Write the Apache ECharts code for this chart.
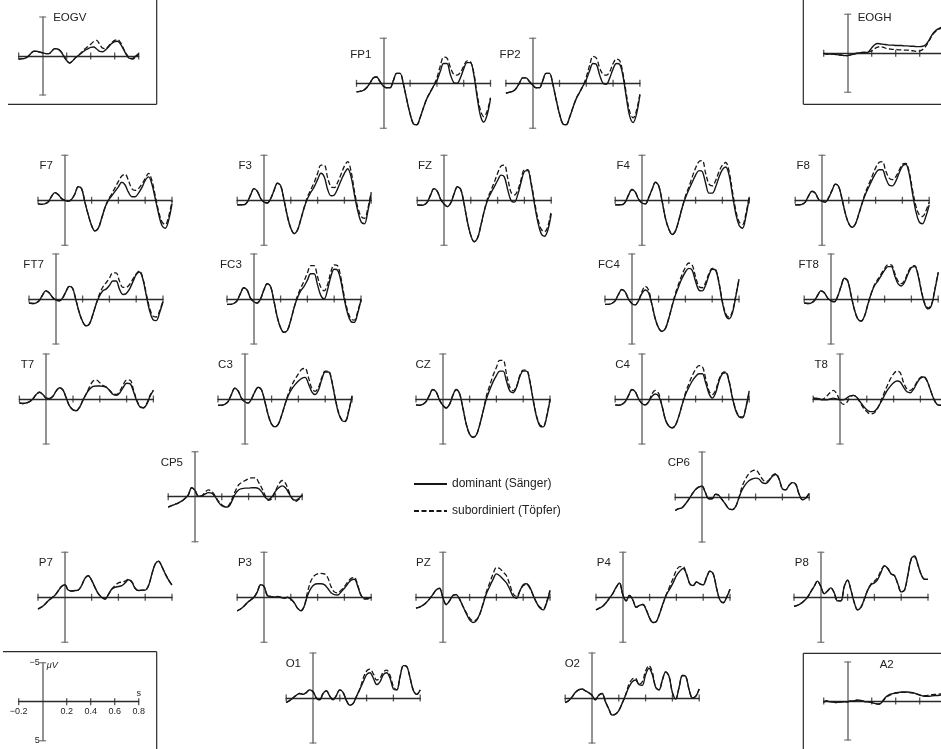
<!DOCTYPE html>
<html><head><meta charset="utf-8">
<script src="https://cdn.jsdelivr.net/npm/echarts@6/dist/echarts.min.js"></script>
<style>html,body{margin:0;padding:0;background:#fff}#c{width:941px;height:749px}</style>
</head><body><div id="c"></div>
<script>
// ---------- data ----------
const times = [-0.2,-0.175,-0.15,-0.125,-0.1,-0.075,-0.05,-0.025,0,0.025,0.05,0.075,0.1,0.125,0.15,0.175,0.2,0.225,0.25,0.275,0.3,0.325,0.35,0.375,0.4,0.425,0.45,0.475,0.5,0.525,0.55,0.575,0.6,0.625,0.65,0.675,0.7,0.725,0.75,0.775,0.8];
const xTicks = [-0.2, 0.2, 0.4, 0.6, 0.8];
const yCaps = [-5, 5];
const scaleXLabels = {'-0.2':'\u22120.2','0.2':'0.2','0.4':'0.4','0.6':'0.6','0.8':'0.8'};
const scaleYLabels = {'-5':'\u22125','5':'5'};
const legendNames = ['dominant (Sänger)', 'subordiniert (Töpfer)'];

const EOGV_dom = [0.4,0.35,0.3,0.1,-0.3,-0.6,-0.6,-0.5,-0.4,-0.3,-0.3,-0.6,-0.95,-0.9,-0.6,0.0,0.6,0.9,0.6,0.2,-0.1,-0.4,-0.7,-0.9,-1.1,-1.15,-0.9,-0.6,-0.55,-0.8,-1.2,-1.6,-1.85,-1.9,-1.5,-0.8,-0.1,0.3,0.3,0.0,-0.3];
const EOGV_sub = [0.4,0.35,0.3,0.1,-0.3,-0.6,-0.6,-0.5,-0.4,-0.3,-0.3,-0.6,-0.95,-0.9,-0.6,0.0,0.6,0.9,0.6,0.2,-0.1,-0.5,-0.9,-1.2,-1.5,-1.85,-2.0,-1.5,-1.0,-0.95,-1.3,-1.7,-2.0,-2.1,-1.7,-0.9,-0.2,0.3,0.4,0.1,-0.2];
const EOGH_dom = [0.0,0.1,0.1,0.1,0.15,0.2,0.25,0.3,0.3,0.2,0.1,0.0,-0.05,-0.1,-0.1,-0.2,-0.7,-1.1,-1.25,-1.2,-1.15,-1.1,-1.05,-1.05,-1.0,-1.0,-1.0,-0.95,-0.95,-0.9,-0.9,-0.85,-0.85,-0.9,-1.1,-1.6,-2.3,-2.8,-3.1,-3.3,-3.4];
const EOGH_sub = [0.0,0.1,0.1,0.1,0.15,0.2,0.25,0.3,0.3,0.2,0.1,0.0,-0.05,-0.1,-0.1,-0.2,-0.3,-0.6,-0.8,-0.85,-0.75,-0.6,-0.55,-0.5,-0.5,-0.45,-0.45,-0.4,-0.4,-0.35,-0.3,-0.25,-0.3,-0.5,-0.9,-1.5,-2.2,-2.7,-3.0,-3.2,-3.3];
const A2_dom = [0.1,0.0,0.1,0.1,0.2,0.15,0.1,0.1,0.1,0.0,0.0,-0.1,-0.1,0.0,0.1,0.1,0.2,0.3,0.4,0.3,-0.2,-0.6,-0.85,-0.95,-1.05,-1.1,-1.15,-1.15,-1.15,-1.1,-1.05,-0.9,-0.75,-0.65,-0.6,-0.6,-0.65,-0.7,-0.7,-0.75,-0.75];
const A2_sub = [0.1,0.0,0.1,0.1,0.2,0.15,0.1,0.1,0.1,0.0,0.0,-0.1,-0.1,0.0,0.1,0.1,0.2,0.3,0.4,0.3,-0.1,-0.5,-0.75,-0.9,-1.0,-1.05,-1.1,-1.1,-1.1,-1.05,-1.0,-0.9,-0.8,-0.7,-0.7,-0.75,-0.8,-0.85,-0.85,-0.9,-0.9];

const FP1_dom = [0.95,0.9,0.8,0.5,0.0,-0.6,-0.7,-0.2,0.3,0.5,0.5,-0.3,-1.1,-1.1,0.1,1.8,3.4,4.5,4.6,3.8,2.7,1.7,1.0,0.3,-0.3,-1.3,-2.2,-2.2,-1.0,-0.1,0.0,-0.6,-1.6,-2.3,-2.3,-1.0,1.5,3.6,4.3,3.5,1.7];
const FP1_sub = [0.95,0.9,0.8,0.5,0.0,-0.6,-0.7,-0.2,0.3,0.5,0.5,-0.3,-1.1,-1.1,0.1,1.8,3.4,4.5,4.6,3.8,2.7,1.7,1.0,0.3,-0.6,-1.9,-2.9,-2.8,-1.8,-1.0,-0.9,-1.2,-1.9,-2.5,-2.4,-1.2,1.2,3.0,3.7,3.1,1.6];
const FP2_dom = [1.1,1.0,0.9,0.6,0.0,-0.6,-0.6,-0.2,0.2,0.5,0.5,-0.3,-1.1,-1.1,0.1,1.8,3.4,4.5,4.6,3.8,2.7,1.7,1.0,0.3,-0.4,-1.4,-2.2,-2.1,-0.9,0.0,0.1,-0.6,-1.6,-2.2,-2.1,-0.7,1.7,3.7,4.35,3.4,1.3];
const FP2_sub = [1.1,1.0,0.9,0.6,0.0,-0.6,-0.6,-0.2,0.2,0.5,0.5,-0.3,-1.1,-1.1,0.1,1.8,3.4,4.5,4.6,3.8,2.7,1.7,1.0,0.3,-0.7,-2.0,-3.0,-2.8,-1.7,-1.0,-0.9,-1.3,-2.2,-2.7,-2.5,-1.0,1.3,3.2,3.85,3.0,1.2];

const F7_dom = [0.4,0.45,0.4,0.2,-0.4,-0.85,-0.65,-0.2,0,0.1,-0.1,-0.7,-1.5,-1.3,0.2,1.6,2.8,3.4,3.1,2.0,0.8,0,-0.5,-1.0,-1.5,-2.0,-1.7,-0.9,-0.4,-0.4,-0.8,-1.4,-2.2,-2.6,-1.8,-0.2,1.5,2.8,3.1,2.2,0.4];
const F7_sub = [0.4,0.45,0.4,0.2,-0.4,-0.85,-0.65,-0.2,0,0.1,-0.1,-0.7,-1.5,-1.3,0.2,1.6,2.8,3.4,3.1,2.0,0.8,-0.1,-0.7,-1.4,-2.1,-2.7,-2.9,-2.2,-1.3,-1.1,-1.3,-1.8,-2.4,-3.0,-2.2,-0.5,1.2,2.4,2.7,1.8,0.1];
const F3_dom = [0.5,0.5,0.5,0.2,-0.6,-1.3,-1.0,-0.2,0.2,0.3,-0.2,-1.1,-1.9,-1.6,0.0,1.8,3.1,3.7,3.3,2.1,0.8,-0.2,-0.9,-1.5,-2.3,-3.0,-2.6,-1.2,-0.5,-0.6,-1.3,-2.2,-3.0,-3.5,-2.6,-0.6,1.2,2.4,2.6,1.2,-0.8];
const F3_sub = [0.5,0.5,0.5,0.2,-0.6,-1.3,-1.0,-0.2,0.2,0.3,-0.2,-1.1,-1.9,-1.6,0.0,1.8,3.1,3.7,3.3,2.1,0.8,-0.4,-1.2,-2.0,-3.0,-3.9,-3.9,-2.5,-1.5,-1.4,-2.0,-2.9,-3.8,-4.3,-3.2,-1.0,0.8,1.8,2.0,0.9,-0.9];
const FZ_dom = [0.5,0.55,0.5,0.2,-0.6,-1.3,-1.0,-0.1,0.4,0.7,0.3,-0.7,-1.5,-1.2,0.4,2.4,3.9,4.6,4.2,2.8,1.2,0.0,-0.8,-1.5,-2.2,-2.8,-2.6,-1.2,0.0,0.2,-0.6,-2.0,-3.2,-3.3,-1.8,0.4,2.4,3.7,4.0,3.3,1.5];
const FZ_sub = [0.5,0.55,0.5,0.2,-0.6,-1.3,-1.0,-0.1,0.4,0.7,0.3,-0.7,-1.5,-1.2,0.4,2.4,3.9,4.6,4.2,2.8,1.2,-0.2,-1.1,-2.0,-3.0,-3.8,-3.9,-2.5,-0.9,-0.6,-1.1,-2.3,-3.4,-3.4,-2.0,0.1,2.0,3.2,3.5,2.9,1.2];
const F4_dom = [0.5,0.5,0.5,0.2,-0.6,-1.2,-0.9,-0.1,0.3,0.4,-0.3,-1.2,-2.0,-1.6,0.1,2.0,3.2,3.8,3.4,2.2,0.8,-0.3,-1.2,-2.0,-2.8,-3.3,-3.2,-1.9,-0.8,-0.8,-1.5,-2.6,-3.4,-3.7,-2.8,-0.6,1.5,2.8,3.1,1.8,-0.3];
const F4_sub = [0.5,0.5,0.5,0.2,-0.6,-1.2,-0.9,-0.1,0.3,0.4,-0.3,-1.2,-2.0,-1.6,0.1,2.0,3.2,3.8,3.4,2.2,0.8,-0.5,-1.5,-2.6,-3.6,-4.3,-4.4,-3.0,-1.8,-1.6,-2.2,-3.2,-3.9,-4.2,-3.2,-1.0,1.1,2.4,2.7,1.5,-0.4];
const F8_dom = [0.5,0.5,0.45,0.2,-0.5,-1.0,-0.8,-0.1,0.1,0.2,-0.3,-1.1,-1.8,-1.5,-0.1,1.5,2.6,3.0,2.6,1.5,0.3,-0.7,-1.5,-2.3,-3.0,-3.4,-3.4,-2.5,-1.7,-1.6,-2.1,-3.0,-3.8,-4.0,-3.0,-0.8,1.2,2.4,2.6,1.8,0.5];
const F8_sub = [0.5,0.5,0.45,0.2,-0.5,-1.0,-0.8,-0.1,0.1,0.2,-0.3,-1.1,-1.8,-1.5,-0.1,1.5,2.6,3.0,2.6,1.5,0.3,-0.9,-1.8,-2.7,-3.6,-4.2,-4.3,-3.3,-2.5,-2.3,-2.6,-3.3,-4.0,-4.1,-3.2,-1.2,0.6,1.6,1.8,1.2,0.2];

const FT7_dom = [0.45,0.5,0.45,0.2,-0.4,-0.9,-0.7,-0.2,0.1,0.2,-0.1,-0.8,-1.4,-1.2,0.1,1.5,2.5,3.0,2.8,1.8,0.6,-0.3,-0.9,-1.1,-1.5,-2.0,-2.0,-1.1,-0.5,-0.6,-1.1,-1.9,-2.7,-3.0,-2.2,-0.4,1.3,2.3,2.4,1.5,0.3];
const FT7_sub = [0.45,0.5,0.45,0.2,-0.4,-0.9,-0.7,-0.2,0.1,0.2,-0.1,-0.8,-1.4,-1.2,0.1,1.5,2.5,3.0,2.8,1.8,0.6,-0.5,-1.3,-1.8,-2.3,-2.9,-2.9,-2.0,-1.3,-1.3,-1.6,-2.2,-2.8,-3.1,-2.3,-0.6,1.0,1.9,2.0,1.3,0.2];
const FC3_dom = [0.6,0.6,0.5,0.2,-0.6,-1.25,-1.0,-0.1,0.3,0.45,0.0,-1.0,-1.7,-1.4,0.2,2.0,3.2,3.7,3.5,2.4,1.0,-0.1,-0.9,-1.4,-2.1,-2.8,-2.8,-1.6,-0.4,0.0,-1.0,-2.5,-3.3,-3.2,-2.0,0.0,1.6,2.5,2.6,1.6,0.1];
const FC3_sub = [0.6,0.6,0.5,0.2,-0.6,-1.25,-1.0,-0.1,0.3,0.45,0.0,-1.0,-1.7,-1.4,0.2,2.0,3.2,3.7,3.5,2.4,1.0,-0.3,-1.2,-2.0,-2.9,-3.7,-3.7,-2.5,-1.3,-0.9,-1.6,-3.0,-3.8,-3.7,-2.4,-0.3,1.3,2.2,2.35,1.4,0.0];
const FC4_dom = [0.6,0.6,0.5,0.2,-0.5,-1.05,-0.8,0.0,0.5,0.65,0.2,-0.6,-1.0,-0.7,0.6,2.2,3.2,3.6,3.3,2.2,0.8,-0.4,-1.4,-2.3,-3.0,-3.4,-3.2,-2.0,-1.0,-0.9,-1.5,-2.6,-3.3,-3.2,-1.8,0.3,1.8,2.2,1.6,-0.2,-2.2];
const FC4_sub = [0.6,0.6,0.5,0.2,-0.5,-1.05,-0.8,0.0,0.5,0.65,0.2,-0.8,-1.4,-1.0,0.6,2.2,3.2,3.6,3.3,2.2,0.8,-0.6,-1.7,-2.7,-3.5,-4.0,-3.8,-2.5,-1.4,-1.25,-1.8,-2.8,-3.4,-3.3,-1.9,0.2,1.6,2.0,1.4,-0.3,-2.2];
const FT8_dom = [0.45,0.5,0.45,0.2,-0.4,-0.9,-0.7,-0.1,0.2,0.3,-0.3,-1.4,-2.3,-2.0,-0.4,1.2,2.2,2.45,1.9,0.6,-0.6,-1.5,-2.0,-2.6,-3.2,-3.6,-3.6,-2.6,-1.7,-1.45,-1.9,-2.8,-3.5,-3.6,-2.6,-0.8,0.6,1.1,0.7,-1.0,-2.9];
const FT8_sub = [0.45,0.5,0.45,0.2,-0.4,-0.9,-0.7,-0.1,0.2,0.3,-0.3,-1.4,-2.3,-2.0,-0.4,1.2,2.2,2.45,1.9,0.6,-0.6,-1.6,-2.2,-2.8,-3.4,-3.8,-3.8,-2.9,-2.0,-1.7,-2.1,-3.0,-3.6,-3.7,-2.7,-0.9,0.5,1.0,0.6,-1.1,-3.0];

const T7_dom = [0.45,0.5,0.45,0.3,0.0,-0.5,-0.75,-0.5,-0.1,-0.05,-0.3,-0.9,-1.25,-1.0,-0.1,0.8,1.2,1.3,0.9,0.1,-0.6,-1.1,-1.4,-1.45,-1.45,-1.4,-1.3,-0.9,-0.5,-0.4,-0.7,-1.3,-1.75,-1.7,-0.9,0.2,0.9,1.0,0.6,-0.3,-0.95];
const T7_sub = [0.45,0.5,0.45,0.3,0.0,-0.5,-0.75,-0.5,-0.1,-0.05,-0.3,-0.9,-1.25,-1.0,-0.1,0.8,1.2,1.3,0.9,0.1,-0.6,-1.4,-2.0,-2.1,-1.8,-1.5,-1.3,-0.95,-0.6,-0.5,-0.9,-1.6,-2.1,-2.1,-1.1,0.1,0.8,0.95,0.5,-0.4,-1.0];
const C3_dom = [0.7,0.7,0.6,0.3,-0.5,-1.2,-0.9,-0.1,0.3,0.45,0.0,-0.8,-1.3,-1.0,0.3,1.8,2.8,3.1,2.8,1.8,0.6,-0.4,-1.1,-1.6,-2.0,-2.3,-2.4,-1.7,-0.8,-0.5,-1.0,-2.2,-3.0,-3.0,-1.9,0.0,1.6,2.4,2.5,1.4,-0.3];
const C3_sub = [0.7,0.7,0.6,0.3,-0.5,-1.2,-0.9,-0.1,0.3,0.45,0.0,-0.8,-1.3,-1.0,0.3,1.8,2.8,3.1,2.8,1.8,0.6,-0.6,-1.5,-2.2,-2.8,-3.3,-3.4,-2.4,-1.2,-0.85,-1.3,-2.4,-3.1,-3.1,-2.0,-0.1,1.5,2.3,2.4,1.3,-0.3];
const CZ_dom = [0.65,0.7,0.6,0.3,-0.4,-1.05,-0.8,0.1,0.7,1.0,0.6,-0.4,-1.05,-0.6,1.0,2.8,3.9,4.25,4.0,2.9,1.4,0.0,-1.0,-1.9,-2.6,-3.1,-3.1,-2.0,-0.9,-0.7,-1.3,-2.5,-3.1,-3.1,-1.9,0.2,2.0,3.0,3.1,2.0,0.1];
const CZ_sub = [0.65,0.7,0.6,0.3,-0.4,-1.05,-0.8,0.1,0.7,1.0,0.6,-0.4,-1.05,-0.6,1.0,2.8,3.9,4.25,4.0,2.9,1.4,-0.3,-1.5,-2.6,-3.5,-4.3,-4.3,-2.8,-1.3,-0.9,-1.4,-2.6,-3.2,-3.2,-2.0,0.1,1.9,2.9,3.0,1.9,0.0];
const C4_dom = [0.65,0.7,0.6,0.3,-0.4,-1.05,-0.8,0.0,0.5,0.65,0.3,-0.3,-0.55,-0.3,0.8,2.3,3.0,3.2,2.9,1.9,0.6,-0.5,-1.3,-2.0,-2.5,-2.8,-2.8,-1.8,-0.6,-0.1,-0.7,-2.0,-2.8,-2.9,-1.9,-0.1,1.3,2.0,2.1,1.0,-0.9];
const C4_sub = [0.65,0.7,0.6,0.3,-0.4,-1.05,-0.8,0.0,0.5,0.65,0.3,-0.6,-0.95,-0.6,0.8,2.3,3.0,3.2,2.9,1.9,0.6,-0.7,-1.7,-2.6,-3.3,-3.7,-3.6,-2.3,-0.9,-0.5,-1.0,-2.2,-2.9,-3.0,-2.0,-0.2,1.2,1.9,2.0,0.9,-0.9];
const T8_dom = [-0.1,-0.1,0.0,0.1,0.1,0.0,-0.1,0.0,0.1,0.1,-0.1,-0.35,-0.4,-0.2,0.3,0.8,1.2,1.4,1.4,1.1,0.5,-0.2,-0.9,-1.4,-1.8,-2.0,-1.9,-1.3,-0.8,-0.7,-1.1,-1.8,-2.3,-2.45,-2.0,-1.0,0.0,0.6,0.7,0.5,0.2];
const T8_sub = [-0.1,0.0,0.1,0.0,-0.3,-0.7,-0.95,-0.6,0.2,0.6,0.4,-0.2,-0.4,-0.2,0.4,1.0,1.4,1.65,1.6,1.2,0.4,-0.5,-1.4,-2.2,-2.8,-3.1,-2.9,-1.8,-1.1,-0.95,-1.3,-1.9,-2.4,-2.5,-2.0,-1.0,0.0,0.6,0.7,0.5,0.2];

const CP5_dom = [1.15,1.0,0.85,0.7,0.5,0.2,-0.2,-1.0,-0.7,-0.05,-0.1,-0.3,-0.45,-0.4,0.0,0.6,1.0,1.15,1.1,0.5,-0.3,-0.75,-0.9,-0.95,-0.95,-1.0,-1.0,-0.9,-0.5,0.1,0.3,0.0,-0.6,-1.0,-1.2,-1.0,-0.4,0.2,0.4,0.2,-0.2];
const CP5_sub = [1.15,1.0,0.85,0.7,0.5,0.2,-0.2,-1.0,-0.7,-0.05,-0.1,-0.5,-0.75,-0.6,-0.1,0.5,0.9,1.1,1.0,0.3,-0.6,-1.3,-1.6,-1.8,-2.0,-2.1,-2.1,-1.6,-0.9,-0.1,0.4,0.2,-0.6,-1.4,-1.8,-1.5,-0.6,0.2,0.55,0.3,-0.2];
const CP6_dom = [1.5,1.3,1.2,0.8,0.3,-0.3,-0.8,-1.1,-1.2,-0.5,0.2,0.2,-0.3,-0.2,0.3,0.8,1.3,1.4,1.1,0.1,-0.8,-1.4,-1.8,-2.0,-2.1,-2.0,-1.6,-1.5,-1.8,-2.3,-2.5,-2.0,-0.9,-0.8,-1.3,-1.6,-1.4,-0.3,0.3,0.1,-0.4];
const CP6_sub = [1.5,1.3,1.2,0.8,0.3,-0.3,-0.8,-1.1,-1.2,-0.5,0.2,0.2,-0.3,-0.2,0.3,0.8,1.3,1.4,1.1,0.1,-1.2,-2.0,-2.6,-2.9,-3.0,-2.6,-2.0,-1.7,-1.9,-2.4,-2.6,-2.0,-0.9,-0.8,-1.3,-1.6,-1.4,-0.3,0.3,0.1,-0.4];

const P7_dom = [1.3,1.1,0.8,0.4,0.1,-0.2,-0.7,-1.2,-1.4,-0.8,-0.7,-0.75,-0.8,-1.3,-2.1,-2.4,-1.9,-1.1,-0.4,0.0,0.2,-0.3,-0.9,-1.1,-1.2,-1.3,-1.6,-1.95,-1.7,-1.0,-0.75,-0.8,-0.8,-1.3,-2.6,-3.7,-4.0,-3.4,-2.6,-1.9,-1.35];
const P7_sub = [1.3,1.1,0.8,0.4,0.1,-0.2,-0.7,-1.2,-1.4,-0.8,-0.7,-0.75,-0.8,-1.3,-2.1,-2.4,-1.9,-1.1,-0.4,0.0,0.2,-0.3,-0.9,-1.3,-1.6,-1.7,-1.8,-2.0,-1.75,-1.0,-0.75,-0.8,-0.8,-1.3,-2.6,-3.7,-4.0,-3.4,-2.6,-1.9,-1.35];
const P3_dom = [1.5,1.3,1.0,0.6,0.3,0.0,-0.6,-1.4,-1.2,-0.2,-0.1,0.0,-0.1,0.0,0.1,0.0,0.2,0.6,1.2,1.5,1.0,-0.2,-1.0,-1.4,-1.5,-1.5,-1.4,-1.0,-0.5,-0.3,-0.25,-0.6,-1.0,-1.5,-1.9,-2.0,-1.2,-0.2,0.1,0.1,0.0];
const P3_sub = [1.5,1.3,1.0,0.6,0.3,0.0,-0.6,-1.4,-1.2,-0.2,-0.1,0.0,-0.1,0.0,0.1,0.0,0.2,0.6,1.2,1.5,1.0,-0.6,-1.8,-2.4,-2.6,-2.65,-2.6,-2.2,-1.2,-0.6,-0.5,-0.8,-1.2,-1.7,-2.1,-2.2,-1.3,-0.2,0.2,0.2,0.0];
const PZ_dom = [1.2,1.1,0.9,0.6,0.2,-0.3,-0.8,-1.0,0.0,0.8,0.4,-0.2,-0.3,0.2,1.0,1.8,2.5,2.8,2.6,1.9,0.8,-0.4,-1.2,-2.0,-2.6,-2.4,-2.0,-1.6,-0.9,-0.1,0.1,-0.7,-1.4,-1.5,-1.1,-0.2,0.6,1.2,1.4,0.6,-0.7];
const PZ_sub = [1.2,1.1,0.9,0.6,0.2,-0.3,-0.8,-1.0,0.0,0.8,0.4,-0.2,-0.3,0.2,1.0,1.7,2.3,2.6,2.5,1.9,0.7,-0.6,-1.6,-2.6,-3.3,-3.2,-2.8,-2.4,-1.4,-0.4,-0.1,-0.7,-1.3,-1.4,-1.0,-0.2,0.6,1.1,1.3,0.5,-0.8];
const P4_dom = [1.4,1.2,1.0,0.6,0.1,-0.4,-1.1,-1.6,-0.3,0.4,-0.2,0.3,1.1,0.9,0.8,1.4,2.3,2.8,2.7,1.8,0.7,-0.3,-0.9,-1.6,-2.4,-2.9,-3.2,-2.6,-1.5,-1.3,-1.7,-1.5,-1.4,-2.2,-2.9,-2.6,-1.0,0.3,0.6,0.0,-0.9];
const P4_sub = [1.4,1.2,1.0,0.6,0.1,-0.4,-1.1,-1.6,-0.3,0.4,-0.2,0.3,1.1,0.9,0.8,1.4,2.3,2.8,2.7,1.8,0.7,-0.3,-1.2,-2.1,-3.0,-3.4,-3.4,-2.6,-1.5,-1.3,-1.7,-1.5,-1.4,-2.2,-2.9,-2.6,-1.0,0.3,0.6,0.0,-0.9];
const P8_dom = [1.0,0.9,0.7,0.4,0.0,-0.6,-1.2,-1.8,-1.2,-0.4,-0.7,-1.05,-0.5,0.4,0.4,-1.2,-1.9,-0.8,0.6,1.4,1.1,0.2,-0.8,-1.4,-1.6,-2.0,-2.8,-3.5,-3.2,-2.6,-2.4,-1.5,-0.6,-0.8,-2.5,-4.3,-4.6,-3.6,-2.5,-2.0,-2.0];
const P8_sub = [1.0,0.9,0.7,0.4,0.0,-0.6,-1.2,-1.8,-1.2,-0.4,-0.7,-1.05,-0.5,0.4,0.4,-1.2,-1.9,-0.8,0.6,1.4,1.1,0.2,-0.8,-1.5,-1.8,-2.2,-3.0,-3.5,-3.2,-2.6,-2.4,-1.5,-0.6,-0.8,-2.5,-4.2,-4.5,-3.6,-2.5,-2.0,-2.0];

const O1_dom = [0.5,0.3,0.0,-0.3,-0.5,-0.4,-0.6,-0.9,-0.7,0.0,0.2,-0.5,-0.8,-0.2,0.2,-0.3,-0.9,-0.6,0.3,0.8,0.6,-0.2,-1.0,-1.8,-2.6,-2.8,-2.2,-1.5,-1.8,-2.6,-2.8,-2.2,-1.0,-0.9,-2.4,-3.6,-3.5,-2.2,-0.8,-0.4,-0.9];
const O1_sub = [0.5,0.3,0.0,-0.3,-0.5,-0.4,-0.6,-0.9,-0.7,0.0,0.2,-0.5,-0.8,-0.2,0.2,-0.3,-0.9,-0.6,0.3,0.8,0.6,-0.2,-1.0,-2.2,-3.0,-3.2,-2.7,-2.0,-2.2,-2.9,-3.1,-2.5,-1.3,-0.9,-2.4,-3.6,-3.5,-2.2,-0.8,-0.4,-0.9];
const O2_dom = [0.5,0.3,-0.1,-0.6,-0.9,-1.0,-0.8,-0.6,-0.3,0.2,-0.3,-0.5,0.4,1.2,1.9,1.8,1.4,0.6,-0.3,-1.2,-1.8,-2.0,-1.5,-1.4,-2.6,-3.3,-2.6,-1.2,-0.9,-2.0,-2.9,-2.4,-0.6,0.1,-1.2,-2.5,-2.4,-0.9,0.0,-0.2,-1.0];
const O2_sub = [0.5,0.3,-0.1,-0.6,-0.9,-1.0,-0.8,-0.6,-0.3,0.2,-0.3,-0.5,0.4,1.2,1.9,1.8,1.4,0.6,-0.3,-1.5,-2.1,-2.2,-1.5,-1.8,-3.0,-3.6,-2.9,-1.2,-0.9,-2.0,-2.9,-2.4,-0.6,0.1,-1.2,-2.5,-2.4,-0.9,0.0,-0.2,-1.0];

// ---------- layout (positions only) ----------
const layout = [
  {name:'EOGV', kind:'s', x0:42.7, y0:56,   dom:EOGV_dom, sub:EOGV_sub, lx:10.5, ly:-37.7},
  {name:'EOGH', kind:'s', x0:847.7, y0:53.3, dom:EOGH_dom, sub:EOGH_sub, lx:10, ly:-35},
  {name:'A2',   kind:'s', x0:847.7, y0:701,  dom:A2_dom, sub:A2_sub, lx:32, ly:-36},
  {name:'',     kind:'s', x0:42.7, y0:701.7, scale:true},
  {name:'FP1', kind:'m', x0:383.3, y0:83.3, dom:FP1_dom, sub:FP1_sub, ly:-28},
  {name:'FP2', kind:'m', x0:532.7, y0:83.3, dom:FP2_dom, sub:FP2_sub, ly:-28},
  {name:'F7', kind:'m', x0:64.8, y0:200.3, dom:F7_dom, sub:F7_sub},
  {name:'F3', kind:'m', x0:264, y0:200.3, dom:F3_dom, sub:F3_sub},
  {name:'FZ', kind:'m', x0:444, y0:200.3, dom:FZ_dom, sub:FZ_sub},
  {name:'F4', kind:'m', x0:642, y0:200.3, dom:F4_dom, sub:F4_sub},
  {name:'F8', kind:'m', x0:822, y0:200.3, dom:F8_dom, sub:F8_sub},
  {name:'FT7', kind:'m', x0:55.8, y0:299, dom:FT7_dom, sub:FT7_sub},
  {name:'FC3', kind:'m', x0:253.8, y0:299, dom:FC3_dom, sub:FC3_sub},
  {name:'FC4', kind:'m', x0:631.8, y0:299, dom:FC4_dom, sub:FC4_sub},
  {name:'FT8', kind:'m', x0:831, y0:299, dom:FT8_dom, sub:FT8_sub},
  {name:'T7', kind:'m', x0:46.2, y0:399, dom:T7_dom, sub:T7_sub},
  {name:'C3', kind:'m', x0:244.8, y0:399, dom:C3_dom, sub:C3_sub},
  {name:'CZ', kind:'m', x0:442.8, y0:399, dom:CZ_dom, sub:CZ_sub},
  {name:'C4', kind:'m', x0:642, y0:399, dom:C4_dom, sub:C4_sub},
  {name:'T8', kind:'m', x0:840, y0:399, dom:T8_dom, sub:T8_sub},
  {name:'CP5', kind:'m', x0:195, y0:496.7, dom:CP5_dom, sub:CP5_sub},
  {name:'CP6', kind:'m', x0:702, y0:497, dom:CP6_dom, sub:CP6_sub},
  {name:'P7', kind:'m', x0:64.8, y0:597.3, dom:P7_dom, sub:P7_sub},
  {name:'P3', kind:'m', x0:264, y0:597.3, dom:P3_dom, sub:P3_sub},
  {name:'PZ', kind:'m', x0:442.8, y0:597.3, dom:PZ_dom, sub:PZ_sub},
  {name:'P4', kind:'m', x0:622.8, y0:597.3, dom:P4_dom, sub:P4_sub},
  {name:'P8', kind:'m', x0:820.8, y0:597.3, dom:P8_dom, sub:P8_sub},
  {name:'O1', kind:'m', x0:313, y0:698, dom:O1_dom, sub:O1_sub},
  {name:'O2', kind:'m', x0:592, y0:698, dom:O2_dom, sub:O2_sub}
];

// ---------- build ----------
const FONT = '"Liberation Sans", Arial, Helvetica, sans-serif';
const INK = '#161616';
const grids = [], xAxes = [], yAxes = [], series = [], graphics = [];
const extraX = [], extraY = [];

layout.forEach((p, i) => {
  const m = p.kind === 'm';
  const pps = m ? 134 : 120;   // pixels per second
  const half = m ? 45 : 39;    // pixels for 5 uV
  grids.push({left: p.x0 - 0.2 * pps, top: p.y0 - half, width: pps, height: 2 * half,
              containLabel: false, outerBoundsMode: 'none'});
  xAxes.push({
    type: 'value', gridIndex: i, min: -0.2, max: 0.8, interval: 0.2,
    axisLine: {onZero: true, onZeroAxisIndex: i, lineStyle: {color: '#2a2a2a', width: 1.3}},
    axisTick: {show: false}, splitLine: {show: false}, axisLabel: {show: false}
  });
  yAxes.push({
    type: 'value', gridIndex: i, min: -5, max: 5, interval: 10, inverse: true,
    axisLine: {onZero: true, onZeroAxisIndex: i, lineStyle: {color: '#6f6f6f', width: 1.5}},
    axisTick: {show: false}, splitLine: {show: false}, axisLabel: {show: false}
  });
  if (p.scale) {
    extraX.push({
      type: 'value', gridIndex: i, min: -0.2, max: 0.8, interval: 0.2, position: 'bottom', offset: -half,
      axisLine: {show: false, onZero: false}, axisTick: {show: false}, splitLine: {show: false},
      axisLabel: {show: true, fontSize: 9, color: '#222', fontFamily: FONT, margin: 5,
        showMinLabel: true, showMaxLabel: true, hideOverlap: false,
        formatter: v => scaleXLabels[(+v).toFixed(1)] || ''}
    });
    extraY.push({
      type: 'value', gridIndex: i, min: -5, max: 5, interval: 10, inverse: true, position: 'left', offset: -0.2 * pps,
      axisLine: {show: false, onZero: false}, axisTick: {show: false}, splitLine: {show: false},
      axisLabel: {show: true, fontSize: 9, color: '#222', fontFamily: FONT, margin: 3,
        showMinLabel: true, showMaxLabel: true, hideOverlap: false,
        formatter: v => scaleYLabels[String(Math.round(v))] || ''}
    });
  }
  if (p.dom) {
    series.push({type: 'line', name: legendNames[1], xAxisIndex: i, yAxisIndex: i,
      data: times.map((t, k) => [t, p.sub[k]]), smooth: 0.35, symbol: 'none', showSymbol: false,
      clip: false, silent: true, z: 3,
      lineStyle: {color: INK, width: 1.3, type: [5, 2.5]}, itemStyle: {color: INK}});
    series.push({type: 'line', name: legendNames[0], xAxisIndex: i, yAxisIndex: i,
      data: times.map((t, k) => [t, p.dom[k]]), smooth: 0.35, symbol: 'none', showSymbol: false,
      clip: false, silent: true, z: 4,
      lineStyle: {color: INK, width: 1.4}, itemStyle: {color: INK}});
  }
  series.push({type: 'scatter', xAxisIndex: i, yAxisIndex: i, clip: false, silent: true, z: 2,
    data: xTicks.map(t => [t, 0]), symbol: 'rect', symbolSize: [1.3, 7], itemStyle: {color: '#2a2a2a'}});
  series.push({type: 'scatter', xAxisIndex: i, yAxisIndex: i, clip: false, silent: true, z: 2,
    data: yCaps.map(v => [0, v]), symbol: 'rect', symbolSize: [7, 1.4], itemStyle: {color: '#6f6f6f'}});

  if (p.name) {
    if (m) {
      graphics.push({type: 'text', x: p.x0 - 12, y: p.y0 + (p.ly != null ? p.ly : -34), silent: true,
        style: {text: p.name, fill: '#222', fontSize: 11.5, fontFamily: FONT, align: 'right', verticalAlign: 'middle'}});
    } else {
      graphics.push({type: 'text', x: p.x0 + p.lx, y: p.y0 + p.ly, silent: true,
        style: {text: p.name, fill: '#222', fontSize: 11.5, fontFamily: FONT, align: 'left', verticalAlign: 'middle'}});
    }
  }
  if (p.scale) {
    graphics.push({type: 'text', x: p.x0 + 4, y: p.y0 - 36, silent: true,
      style: {text: 'μV', fill: '#222', fontSize: 9, fontStyle: 'italic', fontFamily: FONT, align: 'left', verticalAlign: 'middle'}});
    graphics.push({type: 'text', x: p.x0 + 96, y: p.y0 - 8.5, silent: true,
      style: {text: 's', fill: '#222', fontSize: 9, fontFamily: FONT, align: 'center', verticalAlign: 'middle'}});
  }
});
extraX.forEach(a => xAxes.push(a));
extraY.forEach(a => yAxes.push(a));

// corner frames
const frame = (x1, y1, x2, y2) => ({type: 'line', silent: true, shape: {x1, y1, x2, y2},
  style: {stroke: '#2a2a2a', lineWidth: 1.2}});
graphics.push(frame(8, 104.3, 156.7, 104.3), frame(156.7, 0, 156.7, 104.3));
graphics.push(frame(803.3, 0, 803.3, 104.3), frame(803.3, 104.3, 941, 104.3));
graphics.push(frame(3, 651.7, 156.7, 651.7), frame(156.7, 651.7, 156.7, 749));
graphics.push(frame(803.3, 653.3, 941, 653.3), frame(803.3, 653.3, 803.3, 749));

const option = {
  animation: false,
  backgroundColor: '#fff',
  legend: {
    data: legendNames, orient: 'vertical', left: 413, top: 478, padding: 0,
    itemWidth: 33, itemHeight: 14, itemGap: 15, selectedMode: false,
    itemStyle: {opacity: 0},
    textStyle: {fontSize: 12, color: '#222', fontFamily: FONT}
  },
  grid: grids, xAxis: xAxes, yAxis: yAxes, series: series, graphic: graphics
};
const chart = echarts.init(document.getElementById('c'), null, {renderer: 'canvas'});
chart.setOption(option);
</script></body></html>
